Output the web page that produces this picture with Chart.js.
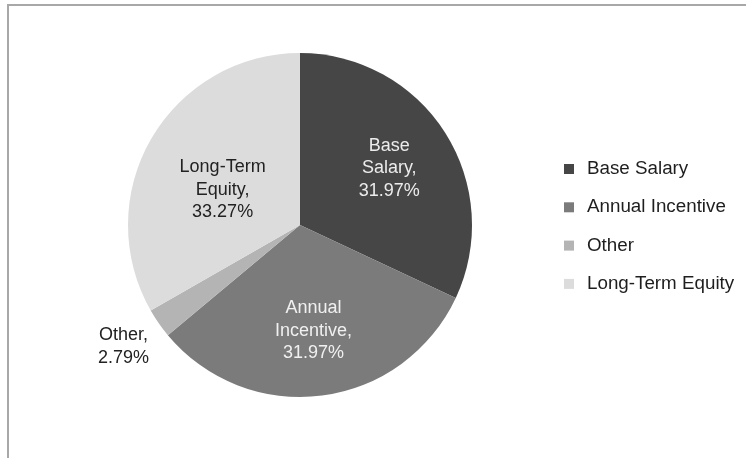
<!DOCTYPE html>
<html>
<head>
<meta charset="utf-8">
<script src="https://cdn.jsdelivr.net/npm/chart.js@4.4.1/dist/chart.umd.min.js"></script>
<style>
  html, body { margin: 0; padding: 0; background: #fff; }
  #wrap { position: relative; width: 746px; height: 458px; overflow: hidden; }
  #frame { position: absolute; left: 7px; top: 4px; width: 760px; height: 470px;
           border-top: 2px solid #a8a8a8; border-left: 2px solid #a8a8a8; box-sizing: border-box; }
  canvas { position: absolute; left: 0; top: 0; }
</style>
</head>
<body>
<div id="wrap">
  <div id="frame"></div>
  <canvas id="c" width="746" height="458"></canvas>
</div>
<script>
const categories = ["Base Salary", "Annual Incentive", "Other", "Long-Term Equity"];
const values = [31.97, 31.97, 2.79, 33.27];
const sliceLabels = [["Base", "Salary,", "31.97%"], ["Annual", "Incentive,", "31.97%"], ["Other,", "2.79%"], ["Long-Term", "Equity,", "33.27%"]];
const colors = ["#464646", "#7b7b7b", "#b4b4b4", "#dcdcdc"];
const labelColors = ["#ececec", "#f0f0f0", "#222222", "#222222"];
const FONT = "'Liberation Sans', Arial, Helvetica, sans-serif";

const labelPlugin = {
  id: 'sliceLabels',
  afterDatasetsDraw(chart) {
    const ctx = chart.ctx;
    const meta = chart.getDatasetMeta(0);
    ctx.save();
    ctx.font = "18px " + FONT;
    ctx.textAlign = "center";
    ctx.textBaseline = "middle";
    const fracs = [0.615, 0.615, 1.25, 0.5];
    const shifts = [[0, 0], [0, 1], [0, -1], [-3, 8]];
    meta.data.forEach((arc, i) => {
      const p = arc.getProps(['x', 'y', 'startAngle', 'endAngle', 'outerRadius'], true);
      const mid = (p.startAngle + p.endAngle) / 2;
      const r = p.outerRadius * fracs[i];
      const cx = p.x + Math.cos(mid) * r + shifts[i][0];
      const cy = p.y + Math.sin(mid) * r + shifts[i][1];
      const lines = sliceLabels[i];
      const lh = 22.5;
      ctx.fillStyle = labelColors[i];
      lines.forEach((t, k) => {
        ctx.fillText(t, cx, cy + (k - (lines.length - 1) / 2) * lh);
      });
    });
    ctx.restore();
  }
};

const legendPlugin = {
  id: 'sideLegend',
  afterDraw(chart) {
    const ctx = chart.ctx;
    const labels = chart.data.labels;
    const bg = chart.data.datasets[0].backgroundColor;
    ctx.save();
    ctx.font = "18.8px " + FONT;
    ctx.textBaseline = "middle";
    ctx.textAlign = "left";
    labels.forEach((l, i) => {
      const y = 169 + i * 38.3;
      ctx.fillStyle = bg[i];
      ctx.fillRect(564, y - 5, 10, 10);
      ctx.fillStyle = "#1e1e1e";
      ctx.fillText(l, 587, y);
    });
    ctx.restore();
  }
};

new Chart(document.getElementById('c'), {
  type: 'pie',
  data: {
    labels: categories,
    datasets: [{
      data: values,
      backgroundColor: colors,
      borderWidth: 0
    }]
  },
  options: {
    responsive: false,
    animation: false,
    layout: { padding: { left: 128, right: 274, top: 53, bottom: 61 } },
    plugins: {
      legend: { display: false },
      tooltip: { enabled: false }
    }
  },
  plugins: [labelPlugin, legendPlugin]
});
</script>
</body>
</html>
